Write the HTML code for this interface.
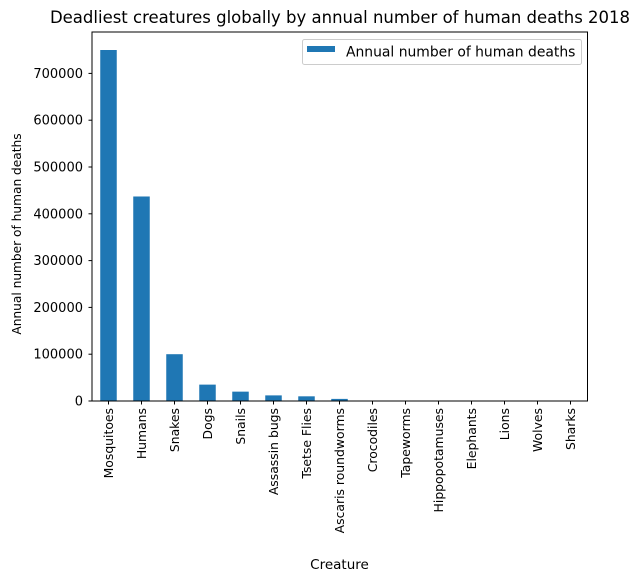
<!DOCTYPE html>
<html><head><meta charset="utf-8"><style>
body{margin:0;background:#fff}
svg{display:block;font-family:"DejaVu Sans","Liberation Sans",sans-serif}
</style></head><body>
<svg id="c" width="641" height="581">
<text x="340" y="23" text-anchor="middle" font-size="16.5" fill="#000">Deadliest creatures globally by annual number of human deaths 2018</text>
<g id="bars"></g>
<g id="yt"></g>
<g id="xt"></g>
<rect x="92" y="32" width="495.5" height="369" fill="none" stroke="#000" stroke-width="1"/>
<text x="339.5" y="569" text-anchor="middle" font-size="13.5">Creature</text>
<text transform="translate(21,234) rotate(-90)" text-anchor="middle" font-size="12.2">Annual number of human deaths</text>
<g>
<rect x="302.5" y="39.5" width="279" height="25" rx="2" fill="#fff" stroke="#ccc"/>
<rect x="307" y="46" width="28" height="6" fill="#1f77b4"/>
<text x="346" y="56.5" font-size="13.9">Annual number of human deaths</text>
</g>
</svg>
<script>
const categories=["Mosquitoes","Humans","Snakes","Dogs","Snails","Assassin bugs","Tsetse Flies","Ascaris roundworms","Crocodiles","Tapeworms","Hippopotamuses","Elephants","Lions","Wolves","Sharks"];
const deaths=[750000,437000,100000,35000,20000,12000,10000,4500,1000,700,500,100,100,10,6];
const yTicks=[0,100000,200000,300000,400000,500000,600000,700000];
const NS="http://www.w3.org/2000/svg";
const x0=92,bw=33,yb=401,scale=46.8/100000;
const y=v=>yb-v*scale;
const xc=i=>x0+bw*(i+0.5);
function mk(t,a,p){const e=document.createElementNS(NS,t);for(const k in a)e.setAttribute(k,a[k]);p.appendChild(e);return e;}
const bars=document.getElementById('bars'),yt=document.getElementById('yt'),xt=document.getElementById('xt');
deaths.forEach((v,i)=>{
 const r=mk('rect',{x:xc(i)-8.25,y:y(v),width:16.5,height:yb-y(v),fill:'#1f77b4'},bars);
 
 
});
yTicks.forEach(t=>{
 const l=mk('line',{x1:88.5,x2:92,y1:y(t),y2:y(t),stroke:'#000'},yt);
 
 
 const tx=mk('text',{x:83,y:y(t)+4.5,'text-anchor':'end','font-size':13},yt);
 tx.textContent=String(t);
 
 
});
categories.forEach((c,i)=>{
 const l=mk('line',{x1:xc(i),x2:xc(i),y1:401,y2:404.5,stroke:'#000'},xt);
 
 
 const tx=mk('text',{transform:`translate(${xc(i)+4.5},408) rotate(-90)`,'text-anchor':'end','font-size':12.4},xt);
 tx.textContent=c;
 
 
});
</script>
</body></html>
